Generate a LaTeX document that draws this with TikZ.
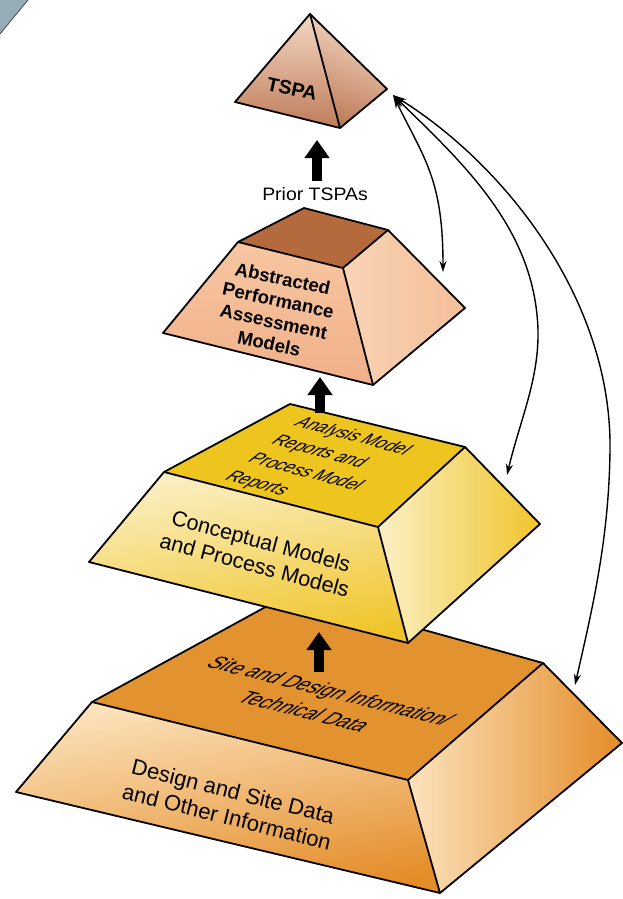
\documentclass[tikz,border=0pt]{standalone}
\usepackage{fontspec}
\setmainfont{Liberation Sans}
\usetikzlibrary{arrows.meta}
\definecolor{cornergray}{RGB}{150,172,182}
\definecolor{tspaLight}{HTML}{F4D8C4}
\definecolor{tspaDark}{HTML}{BF7C5A}
\definecolor{absTop}{HTML}{B56A3E}
\definecolor{absFront}{HTML}{F0B089}
\definecolor{absFrontLight}{HTML}{F7C6A2}
\definecolor{absRight}{HTML}{F9D4B6}
\definecolor{absRightDark}{HTML}{F3BE98}
\definecolor{yelTop}{HTML}{EEC41E}
\definecolor{yelLight}{HTML}{FBF0C6}
\definecolor{yelDark}{HTML}{F0C52A}
\definecolor{ornTop}{HTML}{E2922E}
\definecolor{ornLight}{HTML}{FCE3BD}
\definecolor{ornDark}{HTML}{E48C28}
\begin{document}
\begin{tikzpicture}[x=1pt,y=-1pt,
  outl/.style={draw=black,line width=1.8pt,line join=round},
  blockarrow/.style={line width=10pt,-{Triangle[width=24pt,length=18pt]}},
  feedarrow/.style={line width=1.4pt,{Stealth[length=14pt,width=7pt]}-{Stealth[length=11pt,width=7pt]}},
  lbl/.style={inner sep=0pt}]
\useasboundingbox (0,0) rectangle (623,899);

% page corner
\fill[cornergray] (0,0) -- (28,0) -- (0,34) -- cycle;
\draw[black!70,line width=0.8pt] (28,0) -- (0,34);

% ---------- bottom layer (orange) ----------
\coordinate (oTL) at (92,702);
\coordinate (oTF) at (408,780);
\coordinate (oTR) at (543,663);
\coordinate (oTB) at (291,593);
\coordinate (oBL) at (16,792);
\coordinate (oBF) at (440,893);
\coordinate (oBR) at (622,743);
\fill[ornTop] (oTL) -- (oTB) -- (oTR) -- (oTF) -- cycle;
\shade[top color=ornLight,bottom color=ornDark,shading angle=10] (oTL) -- (oTF) -- (oBF) -- (oBL) -- cycle;
\shade[left color=ornLight,right color=ornDark] (oTF) -- (oTR) -- (oBR) -- (oBF) -- cycle;
\draw[outl] (oBL) -- (oTL) -- (oTB) -- (oTR) -- (oBR) -- (oBF) -- cycle;
\draw[outl] (oTL) -- (oTF) -- (oTR);
\draw[outl] (oTF) -- (oBF);
\node[lbl,align=center,rotate=-14,xslant=0.8,font=\fontsize{19.5}{26}\selectfont]
  (sitetxt) at (318,701) {Site and Design Information/\\Technical Data};
\node[lbl,align=center,rotate=-14,font=\fontsize{22}{26}\selectfont]
  (designtxt) at (230,804) {Design and Site Data\\and Other Information};

% ---------- middle layer (yellow) ----------
\coordinate (yTL) at (164,472);
\coordinate (yTF) at (378,527);
\coordinate (yTR) at (465,447);
\coordinate (yTB) at (290,404);
\coordinate (yBL) at (89,562);
\coordinate (yBF) at (408,643);
\coordinate (yBR) at (540,524);
\fill[yelTop] (yTL) -- (yTB) -- (yTR) -- (yTF) -- cycle;
\shade[top color=yelLight,bottom color=yelDark,shading angle=10] (yTL) -- (yTF) -- (yBF) -- (yBL) -- cycle;
\shade[left color=yelLight,right color=yelDark] (yTF) -- (yTR) -- (yBR) -- (yBF) -- cycle;
\draw[outl] (yBL) -- (yTL) -- (yTB) -- (yTR) -- (yBR) -- (yBF) -- cycle;
\draw[outl] (yTL) -- (yTF) -- (yTR);
\draw[outl] (yTF) -- (yBF);
\node[lbl,align=left,rotate=-15,xslant=0.75,font=\fontsize{17}{23.5}\selectfont]
  (analysistxt) at (318,464) {Analysis Model\\Reports and\\Process Model\\Reports};
\node[lbl,align=center,rotate=-15,font=\fontsize{21.5}{25}\selectfont]
  (concepttxt) at (258,553) {Conceptual Models\\and Process Models};

% ---------- upper layer (abstracted) ----------
\coordinate (aTL) at (238,242);
\coordinate (aTF) at (343,268);
\coordinate (aTR) at (388,230);
\coordinate (aTB) at (304,208);
\coordinate (aBL) at (163,333);
\coordinate (aBF) at (373,385);
\coordinate (aBR) at (465,308);
\fill[absTop] (aTL) -- (aTB) -- (aTR) -- (aTF) -- cycle;
\shade[top color=absFrontLight,bottom color=absFront] (aTL) -- (aTF) -- (aBF) -- (aBL) -- cycle;
\shade[left color=absRight,right color=absRightDark] (aTF) -- (aTR) -- (aBR) -- (aBF) -- cycle;
\draw[outl] (aBL) -- (aTL) -- (aTB) -- (aTR) -- (aBR) -- (aBF) -- cycle;
\draw[outl] (aTL) -- (aTF) -- (aTR);
\draw[outl] (aTF) -- (aBF);
\node[lbl,align=center,rotate=-12,font=\bfseries\fontsize{18.5}{22}\selectfont]
  (abstxt) at (276,311) {Abstracted\\Performance\\Assessment\\Models};

% ---------- top (TSPA) ----------
\coordinate (tA) at (310,14);
\coordinate (tL) at (235,102);
\coordinate (tF) at (340,128);
\coordinate (tR) at (387,89);
\shade[top color=tspaLight,bottom color=tspaDark] (tA) -- (tL) -- (tF) -- cycle;
\shade[top color=tspaLight,bottom color=tspaDark,shading angle=-20] (tA) -- (tF) -- (tR) -- cycle;
\draw[outl] (tA) -- (tL) -- (tF) -- (tR) -- cycle;
\draw[outl] (tA) -- (tF);
\node[lbl,rotate=-12,font=\bfseries\fontsize{19.5}{22}\selectfont] (tspatxt) at (292,89) {TSPA};

% ---------- block arrows ----------
\coordinate (b1s) at (317,181);
\coordinate (b1e) at (317,140);
\coordinate (b2s) at (320,413);
\coordinate (b2e) at (320,377);
\coordinate (b3s) at (319,672);
\coordinate (b3e) at (319,632);
\draw[blockarrow] (b1s) -- (b1e);
\draw[blockarrow] (b2s) -- (b2e);
\draw[blockarrow] (b3s) -- (b3e);
\node[lbl,xscale=1.08,font=\fontsize{18}{20}\selectfont] (prior) at (315,194) {Prior TSPAs};

% ---------- feedback arrows ----------
\coordinate (fb) at (393,95);
\coordinate (f1) at (443,272);
\coordinate (f2) at (507,475);
\coordinate (f3) at (575,685);
\draw[feedarrow] (fb) .. controls (425,160) and (443,180) .. (f1);
\draw[feedarrow] (fb) .. controls (465,165) and (535,230) .. (538,330)
                 .. controls (539,380) and (520,420) .. (f2);
\draw[feedarrow] (fb) .. controls (505,165) and (612,300) .. (610,450)
                 .. controls (609,540) and (592,610) .. (f3);
\end{tikzpicture}
\end{document}
